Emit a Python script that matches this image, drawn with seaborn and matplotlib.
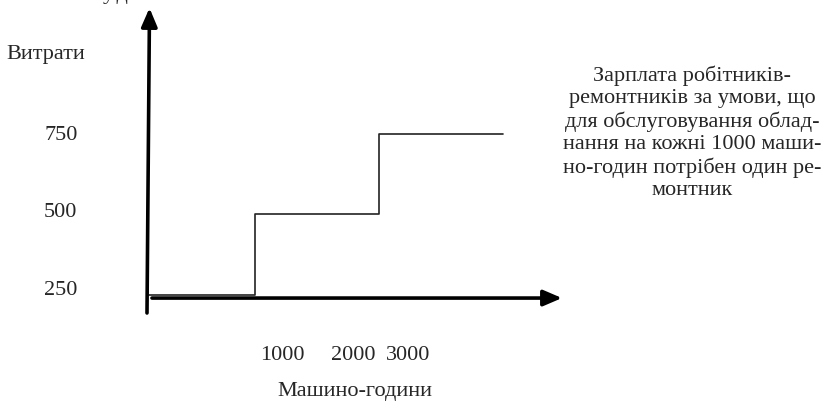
"""Step chart of repair workers' wages against machine-hours."""

import matplotlib

matplotlib.use("Agg")
import matplotlib.pyplot as plt
import pandas as pd
import seaborn as sns

# step data: machine-hours where the wage level changes and the wage level
machine_hours = [150, 1000, 2000, 3000]
costs = [250, 500, 750, 750]

y_ticks = [250, 500, 750]
y_tick_labels = ["250", "500", "750"]
# the source drawing puts its hour labels off the step points, keep them where they were
x_tick_pos = [1220, 1790, 2235]
x_tick_labels = ["1000", "2000", "3000"]

note_lines = [
    "Зарплата робітників-",
    "ремонтників за умови, що",
    "для обслуговування облад-",
    "нання на кожні 1000 маши-",
    "но-годин потрібен один ре-",
    "монтник",
]

W, H = 828, 403
FS = 16

sns.set_theme(style="white")
plt.rcParams["font.family"] = ["Liberation Serif", "DejaVu Serif"]
plt.rcParams["font.size"] = FS

fig = plt.figure(figsize=(W / 100, H / 100), dpi=100)
fig.patch.set_facecolor("white")

# axes box spans the hand drawn arrow axes of the original
left, right, top, bottom = 147, 562, 8, 313
ax = fig.add_axes([left / W, 1 - bottom / H, (right - left) / W, (bottom - top) / H])
ax.set_facecolor("white")
for spine in ax.spines.values():
    spine.set_visible(False)

data = pd.DataFrame({"hours": machine_hours, "cost": costs})
sns.lineplot(
    data=data,
    x="hours",
    y="cost",
    ax=ax,
    drawstyle="steps-post",
    color="#222222",
    linewidth=1.2,
)

ax.set_xlim(136, 3470)
ax.set_ylim(194, 1141)

ax.set_yticks(y_ticks, y_tick_labels)
ax.set_xticks(x_tick_pos, x_tick_labels)
ax.tick_params(axis="y", length=0, pad=50, labelsize=FS)
ax.tick_params(axis="x", length=0, pad=24, labelsize=FS)
# labels in the drawing sit a little above their levels
for lbl, dy in zip(ax.get_yticklabels(), [7, 4, 1]):
    lbl.set_transform(lbl.get_transform() + matplotlib.transforms.ScaledTranslation(0, dy / 100, fig.dpi_scale_trans))
ax.set_xlabel("Машино-години", fontsize=FS, labelpad=12)
ax.set_ylabel("")

arrow = dict(arrowstyle="-|>,head_length=0.7,head_width=0.3", color="black", lw=2.6, shrinkA=0, shrinkB=0)
# vertical axis
ax.annotate("", xy=(0.006, 1.0), xytext=(0.0, 0.0), xycoords="axes fraction", arrowprops=arrow)
# horizontal axis
ax.annotate("", xy=(1.0, 0.049), xytext=(0.012, 0.049), xycoords="axes fraction", arrowprops=arrow)

fig.text(46 / W, 1 - 55 / H, "Витрати", ha="center", va="center", fontsize=FS)
fig.text(118 / W, 1 + 1 / H, "у.д.", ha="center", va="baseline", fontsize=FS)
fig.text(692 / W, 1 - 133 / H, "\n".join(note_lines), ha="center", va="center",
         multialignment="center", fontsize=FS, linespacing=1.22)

fig.savefig("out.png", dpi=100, facecolor="white")
